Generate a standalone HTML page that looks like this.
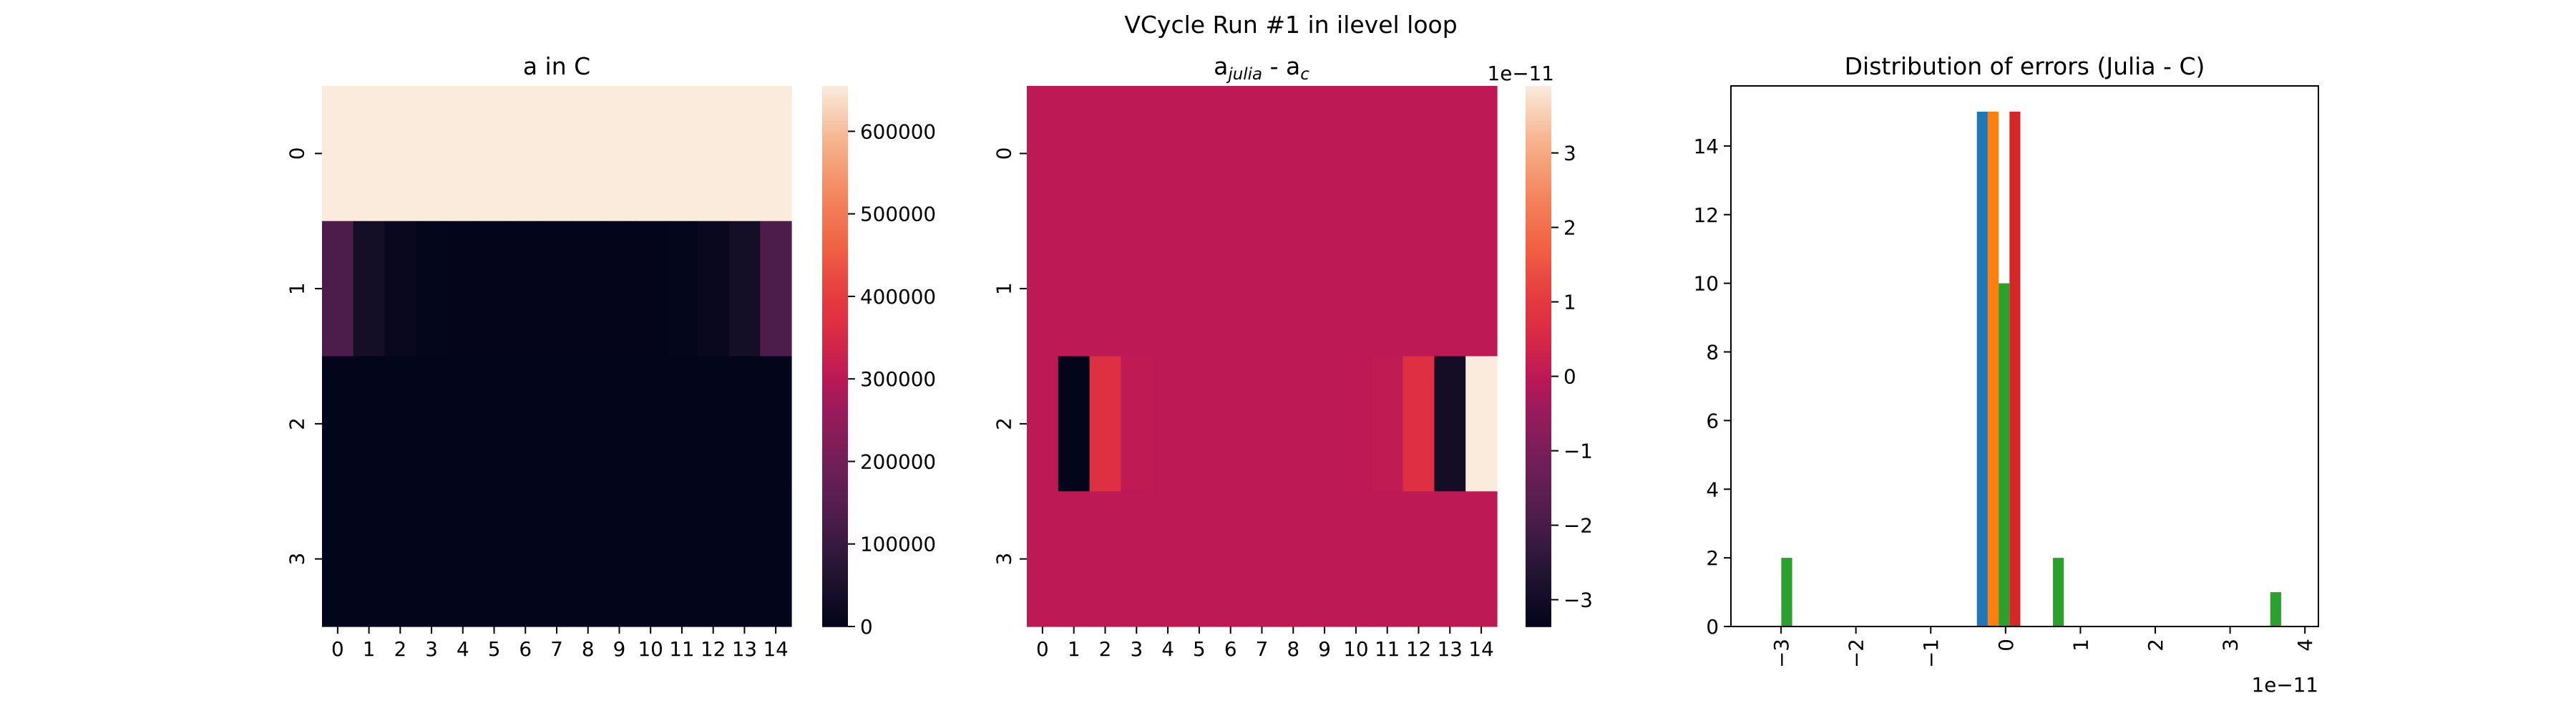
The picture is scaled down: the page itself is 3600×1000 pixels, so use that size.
<!DOCTYPE html>
<html><head><meta charset="utf-8"><style>
html,body{margin:0;padding:0;background:#fff;}
svg{display:block;font-family:"DejaVu Sans","Liberation Sans",sans-serif;}
</style></head><body>
<svg id="fig" width="3600" height="1000" viewBox="0 0 3600 1000" xmlns="http://www.w3.org/2000/svg">
<rect width="3600" height="1000" fill="#fff"/>
<text x="1804" y="46" font-size="33" text-anchor="middle">VCycle Run #1 in ilevel loop</text>
<g id="p1"></g>
<g id="p2"></g>
<g id="p3"></g>
</svg>
<script>
// ---- data ----
const colLabels = [0,1,2,3,4,5,6,7,8,9,10,11,12,13,14];
const rowLabels = [0,1,2,3];
const aRow0 = [655000,655000,655000,655000,655000,655000,655000,655000,655000,655000,655000,655000,655000,655000,655000];
const aRow1 = [131000,35000,12000,3000,2000,2000,2000,2000,2000,2000,2000,3000,12000,35000,131000];
const aRow2 = [0,0,0,0,0,0,0,0,0,0,0,0,0,0,0];
const aRow3 = [0,0,0,0,0,0,0,0,0,0,0,0,0,0,0];
const dRow0 = [0,0,0,0,0,0,0,0,0,0,0,0,0,0,0];
const dRow1 = [0,0,0,0,0,0,0,0,0,0,0,0,0,0,0];
const dRow2 = [0,-3.36,0.72,0.05,0,0,0,0,0,0,0.02,0.08,0.72,-3.0,3.9];
const dRow3 = [0,0,0,0,0,0,0,0,0,0,0,0,0,0,0];
const cbarTicks1 = [0,100000,200000,300000,400000,500000,600000];
const cbarTicks2 = [-3,-2,-1,0,1,2,3];
const histXTicks = [-3,-2,-1,0,1,2,3,4];
const histYTicks = [0,2,4,6,8,10,12,14];
const seriesColors = ['#1f77b4','#ff7f0e','#2ca02c','#d62728'];

const NS='http://www.w3.org/2000/svg';
function el(parent,tag,attrs,text){const e=document.createElementNS(NS,tag);for(const k in attrs)e.setAttribute(k,attrs[k]);if(text!==undefined)e.textContent=text;parent.appendChild(e);return e;}
const stops=[[0,'#03051A'],[0.1,'#231532'],[0.2,'#4C1D4B'],[0.3,'#701F57'],[0.4,'#9A1B5C'],[0.46,'#BC1856'],[0.55,'#DC2D44'],[0.6,'#E43841'],[0.7,'#F06043'],[0.8,'#F4875F'],[0.9,'#F6B48E'],[1,'#FAEBDD']];
function hx(h){return [parseInt(h.substr(1,2),16),parseInt(h.substr(3,2),16),parseInt(h.substr(5,2),16)];}
function rocket(t){t=Math.max(0,Math.min(1,t));for(let i=1;i<stops.length;i++){if(t<=stops[i][0]){const a=stops[i-1],b=stops[i];const f=(t-a[0])/(b[0]-a[0]);const ca=hx(a[1]),cb=hx(b[1]);return 'rgb('+ca.map((v,j)=>Math.round(v+(cb[j]-v)*f)).join(',')+')';}}return stops[stops.length-1][1];}
function fmtMinus(v){return String(v).replace('-','\u2212');}

const TOP=120,BOT=875;
function heatmap(g,rows,x0,x1,cbx,labelX,ticks,extra){
  const all=[].concat(...rows);const vmin=Math.min(...all),vmax=Math.max(...all);
  const cw=(x1-x0)/colLabels.length,rh=(BOT-TOP)/rowLabels.length;
  rows.forEach((r,i)=>r.forEach((v,j)=>{
    const c=el(g,'rect',{x:x0+j*cw,y:TOP+i*rh,width:cw+0.6,height:rh+0.6,fill:rocket((v-vmin)/(vmax-vmin))});
    
    
  }));
  colLabels.forEach((l,j)=>{const x=x0+(j+0.5)*cw;
    el(g,'line',{x1:x,x2:x,y1:BOT,y2:BOT+10,stroke:'#000','stroke-width':2});
    const t=el(g,'text',{x:x,y:916,'font-size':27.8,'text-anchor':'middle'},l);
    });
  rowLabels.forEach((l,i)=>{const y=TOP+(i+0.5)*rh;
    el(g,'line',{x1:x0-10,x2:x0,y1:y,y2:y,stroke:'#000','stroke-width':2});
    const t=el(g,'text',{x:labelX,y:y,'font-size':27.8,'text-anchor':'middle',transform:'rotate(-90 '+labelX+' '+y+')',dy:'0.35em'},l);
    });
  // colorbar
  const cw2=36,n=200;
  for(let k=0;k<n;k++){const y=TOP+k*(BOT-TOP)/n;el(g,'rect',{x:cbx,y:y,width:cw2,height:(BOT-TOP)/n+0.8,fill:rocket(1-(k+0.5)/n)});}
  const cb=el(g,'rect',{x:cbx,y:TOP,width:cw2,height:BOT-TOP,fill:'none'});
  
  ticks.forEach(v=>{const y=BOT-(v-vmin)/(vmax-vmin)*(BOT-TOP);
    el(g,'line',{x1:cbx+cw2,x2:cbx+cw2+10,y1:y,y2:y,stroke:'#000','stroke-width':2});
    const t=el(g,'text',{x:cbx+cw2+17,y:y,'font-size':27.8,dy:'0.36em'},fmtMinus(v));
    });
}
const p1=document.getElementById('p1'),p2=document.getElementById('p2'),p3=document.getElementById('p3');
heatmap(p1,[aRow0,aRow1,aRow2,aRow3],450,1106,1149,415,cbarTicks1);
el(p1,'text',{x:778,y:104,'font-size':33,'text-anchor':'middle',},'a in C');
heatmap(p2,[dRow0,dRow1,dRow2,dRow3],1435,2092,2132,1403,cbarTicks2);
const t2=el(p2,'text',{x:1763,y:104,'font-size':33,'text-anchor':'middle',});
el(t2,'tspan',{},'a');el(t2,'tspan',{'font-size':23,'font-style':'italic',dy:7},'julia');el(t2,'tspan',{dy:-7},' - a');el(t2,'tspan',{'font-size':23,'font-style':'italic',dy:7},'c');
el(p2,'text',{x:2172,y:112,'font-size':27.8,'text-anchor':'end',},'1e\u221211');

// ---- histogram ----
const HX0=2419,HX1=3240;
const series=[dRow0,dRow1,dRow2,dRow3];
const allD=[].concat(...series);const dmin=Math.min(...allD),dmax=Math.max(...allD);
const nb=10,bw=(dmax-dmin)/nb;
const xmin=-3.67,xmax=4.18,ymax=15.75;
const sx=v=>HX0+(v-xmin)/(xmax-xmin)*(HX1-HX0);
const sy=v=>BOT-v/ymax*(BOT-TOP);
series.forEach((s,si)=>{
  const counts=new Array(nb).fill(0);
  s.forEach(v=>{let b=Math.floor((v-dmin)/bw);if(b>=nb)b=nb-1;if(b<0)b=0;counts[b]++;});
  counts.forEach((c,b)=>{if(!c)return;
    const left=dmin+b*bw+0.1*bw+si*0.2*bw;
    const r=el(p3,'rect',{x:sx(left),y:sy(c),width:sx(left+0.2*bw)-sx(left),height:BOT-sy(c),fill:seriesColors[si]});
    });
});
el(p3,'rect',{x:HX0,y:TOP,width:HX1-HX0,height:BOT-TOP,fill:'none',stroke:'#000','stroke-width':2,});
histYTicks.forEach(v=>{const y=sy(v);
  el(p3,'line',{x1:HX0-10,x2:HX0,y1:y,y2:y,stroke:'#000','stroke-width':2});
  const t=el(p3,'text',{x:HX0-17,y:y,'font-size':27.8,'text-anchor':'end',dy:'0.36em'},v);
  });
histXTicks.forEach(v=>{const x=sx(v);
  el(p3,'line',{x1:x,x2:x,y1:BOT,y2:BOT+10,stroke:'#000','stroke-width':2});
  const ty=892;
  const t=el(p3,'text',{x:x,y:ty,'font-size':27.8,'text-anchor':'end',dy:'0.36em',transform:'rotate(-90 '+x+' '+ty+')'},fmtMinus(v));
  });
el(p3,'text',{x:HX0+(HX1-HX0)/2,y:104,'font-size':33,'text-anchor':'middle',},'Distribution of errors (Julia - C)');
el(p3,'text',{x:HX1,y:966,'font-size':27.8,'text-anchor':'end',},'1e\u221211');
</script>
</body></html>
